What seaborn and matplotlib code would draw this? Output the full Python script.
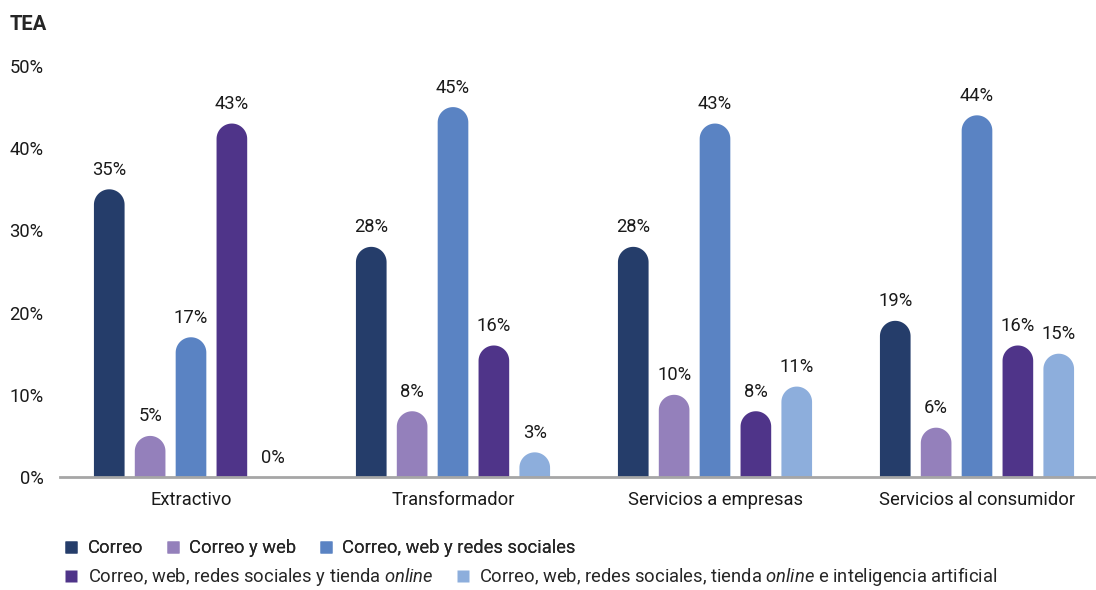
import numpy as np
import pandas as pd
import matplotlib
matplotlib.use("Agg")
import matplotlib.pyplot as plt
from matplotlib.patches import Polygon
from matplotlib.lines import Line2D
import seaborn as sns

# data (TEA, %)
sectores = ["Extractivo", "Transformador", "Servicios a empresas", "Servicios al consumidor"]
canales = [
    "Correo",
    "Correo y web",
    "Correo, web y redes sociales",
    "Correo, web, redes sociales y tienda $\\it{online}$",
    "Correo, web, redes sociales, tienda $\\it{online}$ e inteligencia artificial",
]
correo = [35, 28, 28, 19]
correo_web = [5, 8, 10, 6]
correo_web_redes = [17, 45, 43, 44]
tienda_online = [43, 16, 8, 16]
intel_artificial = [0, 3, 11, 15]
colores = ["#253D6A", "#9480BB", "#5A83C3", "#4F3489", "#8DAEDC"]

series = [correo, correo_web, correo_web_redes, tienda_online, intel_artificial]
rows = []
for canal, vals in zip(canales, series):
    for sec, v in zip(sectores, vals):
        rows.append({"sector": sec, "canal": canal, "valor": v})
df = pd.DataFrame(rows)

sns.set_style("white")
plt.rcParams["font.family"] = ["Roboto", "DejaVu Sans"]
plt.rcParams["mathtext.fontset"] = "custom"
plt.rcParams["mathtext.it"] = "Roboto:italic"
plt.rcParams["mathtext.rm"] = "Roboto"
FS = 13.2

W, H = 1096, 590
fig = plt.figure(figsize=(W / 100, H / 100), dpi=100)
ax_l, ax_r, ax_b, ax_t = 60, 1096, 477, 66
ax = fig.add_axes([ax_l / W, (H - ax_b) / H, (ax_r - ax_l) / W, (ax_b - ax_t) / H])

sns.barplot(data=df, x="sector", y="valor", hue="canal", hue_order=canales,
            order=sectores, palette=colores, width=0.78, gap=0.25,
            legend=False, saturation=1, linewidth=0, edgecolor="none", ax=ax)

group_px = 262
x0 = -(191 - ax_l) / group_px
ax.set_xlim(x0, x0 + (ax_r - ax_l) / group_px)
ax.set_ylim(0, 50)

# pixel -> data scale so the bar tops become half circles
y_per_px = 50 / (ax_b - ax_t)
x_per_px = (ax.get_xlim()[1] - ax.get_xlim()[0]) / (ax_r - ax_l)
theta = np.linspace(0, np.pi, 40)

for cont, vals in zip(ax.containers, series):
    for rect, v in zip(cont, vals):
        x, w, h = rect.get_x(), rect.get_width(), rect.get_height()
        ax.annotate(f"{v}%", (x + w / 2, v), xytext=(0, 7.5), textcoords="offset points",
                    ha="center", va="bottom", fontsize=FS, color="#1a1a1a")
        if h <= 0:
            continue
        r_y = (w / x_per_px) / 2 * y_per_px
        base = max(h - r_y, 0)
        cx = x + w / 2
        top = np.column_stack([cx + w / 2 * np.cos(theta), base + r_y * np.sin(theta)])
        pts = np.vstack([[x, 0], [x + w, 0], top])
        ax.add_patch(Polygon(pts, closed=True, facecolor=rect.get_facecolor(),
                             edgecolor="none", linewidth=0))
        rect.set_visible(False)

ax.set_yticks([0, 10, 20, 30, 40, 50])
ax.set_yticklabels([f"{t}%" for t in [0, 10, 20, 30, 40, 50]], fontsize=FS, color="#1a1a1a")
ax.tick_params(axis="y", length=0, pad=12)
ax.tick_params(axis="x", length=0, pad=10, labelsize=FS, labelcolor="#1a1a1a")
ax.set_xlabel("")
ax.set_ylabel("")
for s in ["top", "right", "left"]:
    ax.spines[s].set_visible(False)
ax.spines["bottom"].set_color("#A6A6A6")
ax.spines["bottom"].set_linewidth(2)
ax.spines["bottom"].set_zorder(5)

fig.text(10 / W, 1 - 24 / H, "TEA", fontsize=14.5, fontweight="bold", va="center", ha="left")

def handles(idx):
    return [Line2D([], [], marker="s", linestyle="none", markersize=8,
                   markerfacecolor=colores[i], markeredgecolor="none") for i in idx]

leg1 = fig.legend(handles(range(3)), canales[:3], loc="center left", ncol=3,
                  bbox_to_anchor=(64 / W, 1 - 548 / H), frameon=False, fontsize=FS,
                  handlelength=0.8, handletextpad=0.5, columnspacing=1.2,
                  borderaxespad=0, borderpad=0)
leg2 = fig.legend(handles(range(3, 5)), canales[3:], loc="center left", ncol=2,
                  bbox_to_anchor=(64 / W, 1 - 577 / H), frameon=False, fontsize=FS,
                  handlelength=0.8, handletextpad=0.5, columnspacing=1.2,
                  borderaxespad=0, borderpad=0)
fig.add_artist(leg1)

fig.savefig("out.png", dpi=100)
